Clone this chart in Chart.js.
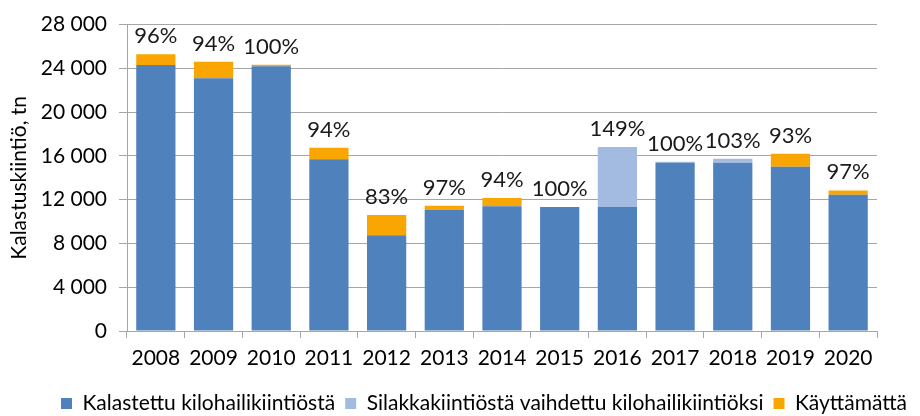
<!DOCTYPE html>
<html>
<head>
<meta charset="utf-8">
<script src="https://cdn.jsdelivr.net/npm/chart.js@4"></script>
<style>
  html, body { margin: 0; padding: 0; overflow: hidden; background: #fff; }
  #wrap { width: 968px; height: 416px; }
</style>
</head>
<body>
<div id="wrap"><canvas id="kilohaili"></canvas></div>
<script>
var years = ['2008', '2009', '2010', '2011', '2012', '2013', '2014', '2015', '2016', '2017', '2018', '2019', '2020'];
var kalastettu = [24300, 23100, 24200, 15700, 8750, 11050, 11400, 11330, 11330, 15380, 15380, 15000, 12460];
var vaihdettu = [0, 0, 0, 0, 0, 0, 0, 0, 5480, 80, 360, 0, 0];
var kayttamatta = [1000, 1500, 120, 1050, 1850, 400, 760, 0, 0, 0, 0, 1190, 390];
var kaytto = [96, 94, 100, 94, 83, 97, 94, 100, 149, 100, 103, 93, 97];

var FONT = 'Lato, "Open Sans", sans-serif';
var GRID = '#a6a6a6';

function spaced(v) {
    return String(v).replace(/\B(?=(\d{3})+(?!\d))/g, ' ');
}

// prosentit pinon päälle
var pctLabels = {
    id: 'pctLabels',
    afterDatasetsDraw: function(chart) {
        var ctx = chart.ctx;
        var meta = chart.getDatasetMeta(0);
        ctx.save();
        ctx.font = '22px ' + FONT;
        ctx.fillStyle = '#1a1a1a';
        ctx.textAlign = 'center';
        ctx.textBaseline = 'bottom';
        years.forEach(function(y, i) {
            var total = kalastettu[i] + vaihdettu[i] + kayttamatta[i];
            var py = chart.scales.y.getPixelForValue(total);
            ctx.fillText(kaytto[i] + '%', meta.data[i].x, py - 7);
        });
        ctx.restore();
    }
};

var kilohaili = document.getElementById('kilohaili');
var kilohailiChart = new Chart(kilohaili, {
    type: 'bar',
    data: {
        labels: years,
        datasets: [{
            label: 'Kalastettu kilohailikiintiöstä',
            data: kalastettu,
            backgroundColor: '#4f81bd'
        }, {
            label: 'Silakkakiintiöstä vaihdettu kilohailikiintiöksi',
            data: vaihdettu,
            backgroundColor: '#a3bbe0'
        }, {
            label: 'Käyttämättä',
            data: kayttamatta,
            backgroundColor: '#f9a602'
        }]
    },
    options: {
        responsive: true,
        maintainAspectRatio: false,
        animation: false,
        layout: { padding: { top: 5, left: 0, right: 0, bottom: -8 } },
        datasets: {
            bar: { categoryPercentage: 1, barPercentage: 0.68 }
        },
        scales: {
            x: {
                stacked: true,
                grid: { offset: true, drawOnChartArea: false, tickLength: 7, color: GRID },
                border: { color: GRID },
                ticks: { color: '#000', font: { family: FONT, size: 21 }, padding: 8 },
                afterFit: function(s) { s.height = 52; }
            },
            y: {
                stacked: true,
                min: 0,
                max: 28000,
                grid: { color: GRID, tickLength: 8 },
                border: { color: GRID },
                ticks: {
                    stepSize: 4000,
                    color: '#000',
                    padding: 12,
                    font: { family: FONT, size: 21 },
                    callback: function(v) { return spaced(v); }
                },
                title: {
                    display: true,
                    text: 'Kalastuskiintiö, tn',
                    color: '#000',
                    font: { family: FONT, size: 21 },
                    padding: { top: 7, bottom: 0 }
                },
                afterFit: function(s) { s.width = 127; }
            },
            tyhja: {
                position: 'right',
                grid: { drawOnChartArea: false, drawTicks: false },
                border: { display: false },
                ticks: { display: false },
                afterFit: function(s) { s.width = 91; }
            }
        },
        plugins: {
            legend: {
                position: 'bottom',
                labels: {
                    color: '#000',
                    boxWidth: 11,
                    boxHeight: 11,
                    padding: 10,
                    font: { family: FONT, size: 21 }
                }
            },
            tooltip: { enabled: false }
        }
    },
    plugins: [pctLabels]
});
</script>
</body>
</html>
